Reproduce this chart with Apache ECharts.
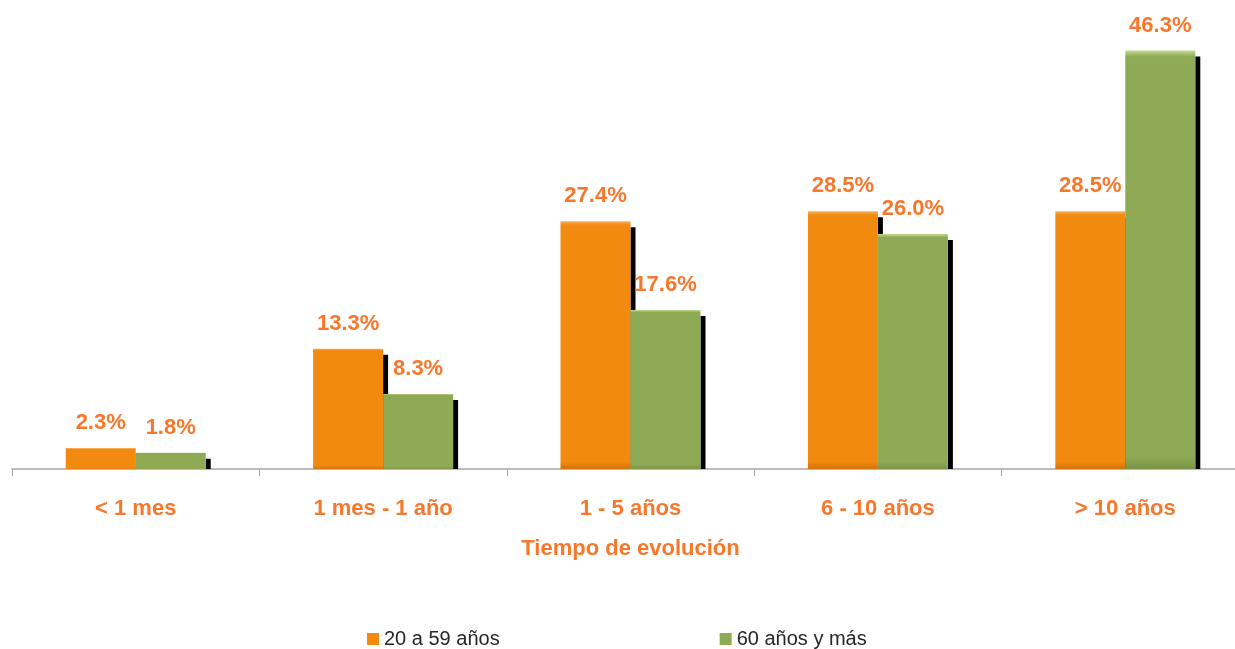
<!DOCTYPE html>
<html>
<head>
<meta charset="utf-8">
<script src="https://cdn.jsdelivr.net/npm/echarts@6/dist/echarts.min.js"></script>
<style>
html,body{margin:0;padding:0;background:#fff;overflow:hidden;}
#c{width:1249px;height:649px;}
</style>
</head>
<body>
<div id="c"></div>
<script>
const categories = ['< 1 mes', '1 mes - 1 año', '1 - 5 años', '6 - 10 años', '> 10 años'];
const seriesNames = ['20 a 59 años', '60 años y más'];
const valuesAdults = [2.3, 13.3, 27.4, 28.5, 28.5];
const valuesSeniors = [1.8, 8.3, 17.6, 26.0, 46.3];
const axisTitle = 'Tiempo de evolución';

const labelColor = '#F8772A';
const font = '"Liberation Sans", Arial, sans-serif';
const BAR_W = 70;

function barStyle(base, light, dark) {
  return {
    color: {
      type: 'linear', x: 0, y: 0, x2: 0, y2: 1,
      colorStops: [
        {offset: 0, color: light},
        {offset: 0.015, color: base},
        {offset: 0.97, color: base},
        {offset: 1, color: dark}
      ],
      global: false
    }
  };
}

function mkSeries(name, data, base, light, dark) {
  return {
    name: name,
    type: 'bar',
    data: data,
    barWidth: BAR_W,
    barGap: '0%',
    z: 3,
    itemStyle: barStyle(base, light, dark),
    label: {
      show: true,
      position: 'top',
      distance: 14,
      color: labelColor,
      fontFamily: font,
      fontWeight: 'bold',
      fontSize: 22,
      formatter: p => p.value.toFixed(1) + '%'
    }
  };
}

// shadow data built from the value arrays: [category index, value, series index]
const shadowData = [];
valuesAdults.forEach((v, i) => shadowData.push([i, v, 0]));
valuesSeniors.forEach((v, i) => shadowData.push([i, v, 1]));

const chart = echarts.init(document.getElementById('c'));
chart.setOption({
  backgroundColor: '#fff',
  animation: false,
  color: ['#F28A10', '#8FAA55'],
  grid: {left: 12, right: 0, top: 17, bottom: 180},
  legend: {
    data: seriesNames,
    left: 362,
    top: 624,
    itemWidth: 12,
    itemHeight: 12,
    itemGap: 220,
    icon: 'rect',
    textStyle: {color: '#262626', fontFamily: font, fontSize: 20}
  },
  xAxis: {
    type: 'category',
    data: categories,
    name: axisTitle,
    nameLocation: 'middle',
    nameGap: 69,
    nameTextStyle: {color: labelColor, fontFamily: font, fontWeight: 'bold', fontSize: 22},
    axisLine: {lineStyle: {color: '#A6A6A6', width: 1.5}},
    axisTick: {show: true, length: 7, lineStyle: {color: '#A6A6A6'}},
    axisLabel: {margin: 29, color: labelColor, fontFamily: font, fontWeight: 'bold', fontSize: 22}
  },
  yAxis: {
    type: 'value',
    min: 0,
    max: 50,
    show: false,
    splitLine: {show: false}
  },
  series: [
    {
      type: 'custom',
      data: shadowData,
      encode: {x: 0, y: 1},
      z: 2,
      silent: true,
      renderItem: function (params, api) {
        const cat = api.value(0), val = api.value(1), side = api.value(2);
        const top = api.coord([cat, val]);
        const base = api.coord([cat, 0]);
        const x = top[0] + (side === 0 ? 0 : BAR_W);
        const y = top[1] + 6;
        return {
          type: 'rect',
          shape: {x: x, y: y, width: 5, height: Math.max(0, base[1] - y)},
          style: {fill: '#000'}
        };
      }
    },
    mkSeries(seriesNames[0], valuesAdults, '#F28A10', '#F8B060', '#D2730A'),
    mkSeries(seriesNames[1], valuesSeniors, '#8FAA55', '#C5DC90', '#7A9446')
  ]
});
</script>
</body>
</html>
